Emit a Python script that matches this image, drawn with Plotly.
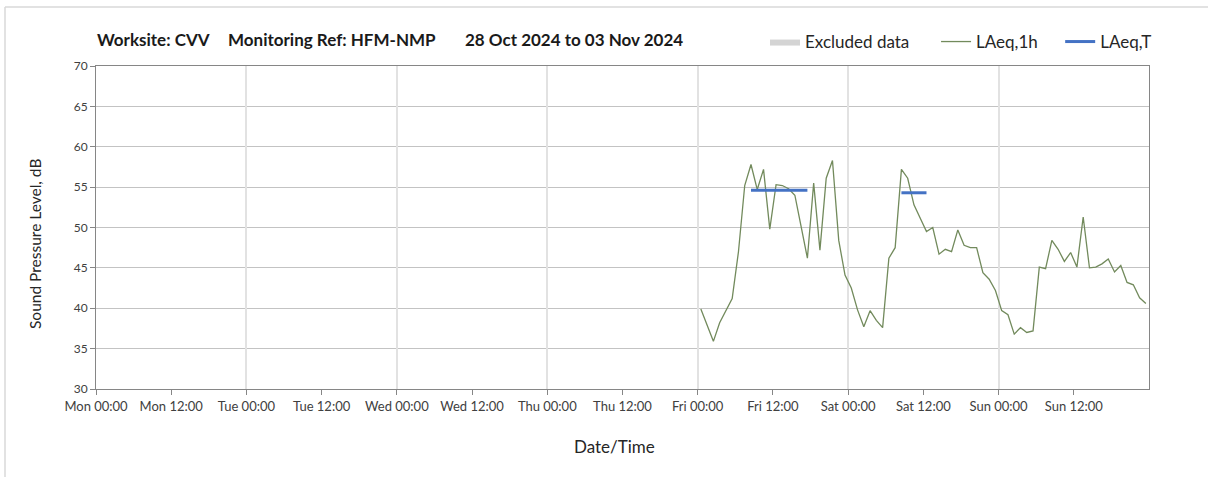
import pandas as pd
import plotly.graph_objects as go

# ---- data ----
times = pd.date_range("2024-11-01 00:30", periods=72, freq="h")
laeq_1h = [
    # Friday
    39.9, 37.9, 35.9, 38.2, 39.7, 41.2, 47.0, 55.2, 57.8, 54.7, 57.2, 49.8,
    55.3, 55.2, 54.8, 54.0, 50.1, 46.2, 55.5, 47.2, 56.1, 58.3, 48.4, 44.1,
    # Saturday
    42.5, 39.8, 37.7, 39.7, 38.5, 37.6, 46.2, 47.5, 57.2, 56.1, 52.8, 51.2,
    49.5, 50.0, 46.7, 47.3, 47.0, 49.7, 47.8, 47.5, 47.5, 44.4, 43.6, 42.2,
    # Sunday
    39.7, 39.2, 36.8, 37.6, 37.0, 37.2, 45.1, 44.9, 48.4, 47.3, 45.8, 46.9,
    45.1, 51.3, 45.0, 45.1, 45.5, 46.1, 44.5, 45.3, 43.2, 42.9, 41.3, 40.6,
]
laeq_t_x = ["2024-11-01 08:30", "2024-11-01 17:30", None,
            "2024-11-02 08:30", "2024-11-02 12:30"]
laeq_t_y = [54.6, 54.6, None, 54.3, 54.3]

tick_vals = pd.date_range("2024-10-28 00:00", periods=14, freq="12h")
tick_text = ["Mon 00:00", "Mon 12:00", "Tue 00:00", "Tue 12:00", "Wed 00:00",
             "Wed 12:00", "Thu 00:00", "Thu 12:00", "Fri 00:00", "Fri 12:00",
             "Sat 00:00", "Sat 12:00", "Sun 00:00", "Sun 12:00"]
x_range = ["2024-10-28 00:00", "2024-11-04 00:00"]
y_ticks = [30, 35, 40, 45, 50, 55, 60, 65, 70]

FONT = "Lato"
W, H = 1208, 477
L, R, T, B = 96, 59, 66, 88
PW, PH = W - L - R, H - T - B


def px_x(px):
    return (px - L) / PW


def px_y(py):
    return 1 + (T - py) / PH


NB = "\u00a0"

fig = go.Figure()
fig.add_trace(go.Scatter(
    x=[None], y=[None], name="Excluded data" + NB * 5, mode="lines",
    fill="toself", fillcolor="#d4d4d4", line=dict(width=0, color="#d4d4d4"),
))
fig.add_trace(go.Scatter(
    x=times, y=laeq_1h, name="LAeq,1h" + NB * 4, mode="lines",
    line=dict(color="#728a5c", width=1.3),
))
fig.add_trace(go.Scatter(
    x=laeq_t_x, y=laeq_t_y, name="LAeq,T", mode="lines",
    line=dict(color="#4472c4", width=3), connectgaps=False,
))

fig.update_layout(
    width=W, height=H,
    margin=dict(l=L, r=R, t=T, b=B),
    paper_bgcolor="white", plot_bgcolor="white",
    font=dict(family=FONT, color="#404040"),
    showlegend=True,
    legend=dict(
        orientation="h", x=px_x(1157), xanchor="right", y=px_y(42), yanchor="middle",
        font=dict(size=17, color="#262626"), bgcolor="rgba(0,0,0,0)",
        itemwidth=30, traceorder="normal",
    ),
    xaxis=dict(
        type="date", range=x_range, tickmode="array", tickvals=tick_vals,
        ticktext=tick_text, showgrid=False, ticks="outside", ticklen=5,
        tickcolor="#868686", tickfont=dict(size=13, color="#404040"),
        showline=True, linecolor="#868686", mirror=True, zeroline=False,
    ),
    xaxis2=dict(
        type="date", range=x_range, overlaying="x", matches="x", dtick=86400000,
        tick0="2024-10-28", showgrid=True, gridcolor="#e2e2e2", gridwidth=1.5,
        showticklabels=False, ticks="", showline=False, zeroline=False,
    ),
    yaxis=dict(
        range=[30, 70], tickvals=y_ticks, showgrid=True, gridcolor="#c3c3c3",
        ticks="outside", ticklen=5, tickcolor="#868686",
        tickfont=dict(size=12, color="#404040"),
        showline=True, linecolor="#868686", mirror=True, zeroline=False,
    ),
)

# dummy invisible trace so xaxis2 is rendered
fig.add_trace(go.Scatter(x=[None], y=[None], xaxis="x2", showlegend=False,
                         hoverinfo="skip"))

# axis titles
fig.add_annotation(text="Date/Time", xref="paper", yref="paper",
                   x=px_x(614), y=px_y(446), xanchor="center", yanchor="middle",
                   showarrow=False, font=dict(size=17, color="#262626", family=FONT))
fig.add_annotation(text="Sound Pressure Level, dB", xref="paper", yref="paper",
                   x=px_x(35), y=px_y(244), xanchor="center", yanchor="middle",
                   textangle=-90, showarrow=False,
                   font=dict(size=15.5, color="#262626", family=FONT))

title_parts = [("Worksite: CVV", 95), ("Monitoring Ref: HFM-NMP", 226),
               ("28 Oct 2024 to 03 Nov 2024", 463)]
for txt, px in title_parts:
    fig.add_annotation(
        text="<b>%s</b>" % txt, xref="paper", yref="paper",
        x=px_x(px), y=px_y(40), xanchor="left", yanchor="middle",
        showarrow=False, font=dict(size=17, color="#1a1a1a", family=FONT),
    )

# outer frame lines
fig.add_shape(type="line", xref="paper", yref="paper",
              x0=px_x(5), x1=px_x(1215), y0=px_y(7), y1=px_y(7),
              line=dict(color="#d9d9d9", width=1.5))
fig.add_shape(type="line", xref="paper", yref="paper",
              x0=px_x(5), x1=px_x(5), y0=px_y(7), y1=px_y(485),
              line=dict(color="#d9d9d9", width=1.5))

fig.write_html("out.html", config={"displayModeBar": False},
               post_script="document.body.style.margin='0';document.body.style.overflow='hidden';")
